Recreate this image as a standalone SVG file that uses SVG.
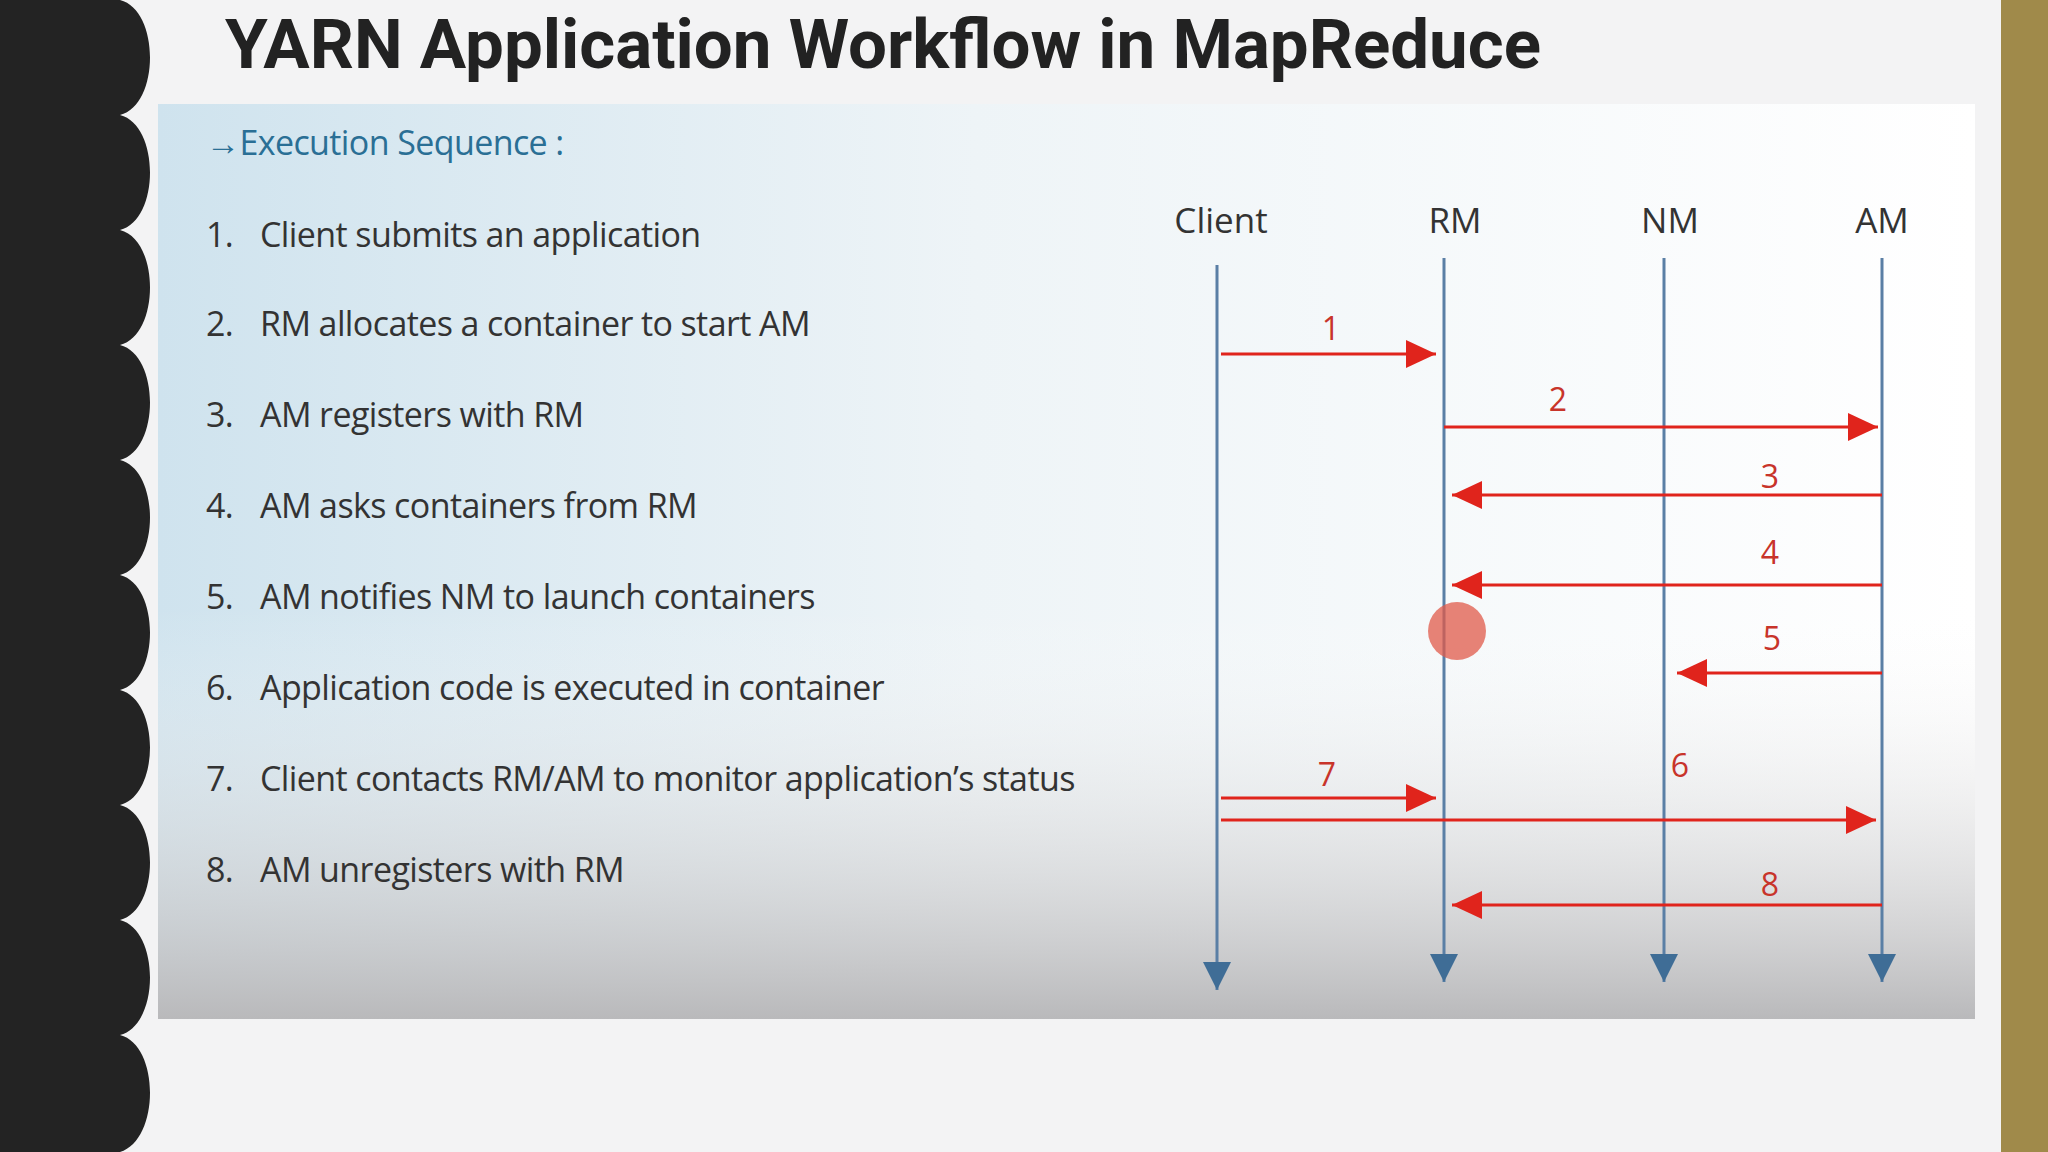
<svg xmlns="http://www.w3.org/2000/svg" width="2048" height="1152" viewBox="0 0 2048 1152">
<defs>
<style>
.t{font-family:"Open Sans","Liberation Sans",sans-serif;font-size:34px;fill:#333;letter-spacing:-0.6px}
.h{font-family:"Open Sans","Liberation Sans",sans-serif;font-size:35px;fill:#333;text-anchor:middle}
.n{font-family:"Open Sans","Liberation Sans",sans-serif;font-size:32px;fill:#c8342a;text-anchor:middle}
.life{stroke:#5a7fa5;stroke-width:3;fill:none}
.msg{stroke:#e0241c;stroke-width:3;fill:none;marker-end:url(#ra)}
</style>
<marker id="ra" markerUnits="userSpaceOnUse" markerWidth="32" markerHeight="28" refX="30" refY="14" orient="auto"><path d="M0,0 L30,14 L0,28 Z" fill="#e0241c"/></marker>
<marker id="ba" markerUnits="userSpaceOnUse" markerWidth="30" markerHeight="28" refX="28" refY="14" orient="auto"><path d="M0,0 L28,14 L0,28 Z" fill="#3f6d96"/></marker>
<linearGradient id="bg" x1="0" y1="0" x2="1" y2="0"><stop offset="0" stop-color="#cfe3ee"/><stop offset="0.45" stop-color="#eef4f7"/><stop offset="1" stop-color="#ffffff"/></linearGradient>
<linearGradient id="bot" x1="0" y1="0" x2="0" y2="1"><stop offset="0" stop-color="#ffffff" stop-opacity="0"/><stop offset="0.55" stop-color="#ffffff" stop-opacity="0"/><stop offset="1" stop-color="#b9b9bb" stop-opacity="1"/></linearGradient>
</defs>
<rect width="2048" height="1152" fill="#f3f3f4"/>
<rect x="2001" y="0" width="47" height="1152" fill="#a08a4a"/>
<path d="M0,0 H120 C160,10 160,105 120,115 C160,125 160,220 120,230 C160,240 160,335 120,345 C160,355 160,450 120,460 C160,470 160,565 120,575 C160,585 160,680 120,690 C160,700 160,795 120,805 C160,815 160,910 120,920 C160,930 160,1025 120,1035 C160,1045 160,1140 120,1152 H0 Z" fill="#232323"/>
<text x="225" y="68" font-family="Roboto,'Liberation Sans',sans-serif" font-weight="bold" font-size="68" fill="#222" textLength="1316" lengthAdjust="spacingAndGlyphs">YARN Application Workflow in MapReduce</text>
<g id="panel">
<rect x="158" y="104" width="1817" height="915" fill="url(#bg)"/>
<rect x="158" y="104" width="1817" height="915" fill="url(#bot)"/>
</g>
<g id="list">
<text x="206" y="155" class="t" style="fill:#2a6f95">→Execution Sequence :</text>
<text x="206" y="247" class="t">1.</text><text x="260" y="247" class="t">Client submits an application</text>
<text x="206" y="336" class="t">2.</text><text x="260" y="336" class="t">RM allocates a container to start AM</text>
<text x="206" y="427" class="t">3.</text><text x="260" y="427" class="t">AM registers with RM</text>
<text x="206" y="518" class="t">4.</text><text x="260" y="518" class="t">AM asks containers from RM</text>
<text x="206" y="609" class="t">5.</text><text x="260" y="609" class="t">AM notifies NM to launch containers</text>
<text x="206" y="700" class="t">6.</text><text x="260" y="700" class="t">Application code is executed in container</text>
<text x="206" y="791" class="t">7.</text><text x="260" y="791" class="t">Client contacts RM/AM to monitor application’s status</text>
<text x="206" y="882" class="t">8.</text><text x="260" y="882" class="t">AM unregisters with RM</text>
</g>
<g id="client"><text x="1221" y="233" class="h">Client</text><line x1="1217" y1="265" x2="1217" y2="990" class="life" marker-end="url(#ba)"/></g>
<g id="rm"><text x="1455" y="233" class="h">RM</text><line x1="1444" y1="258" x2="1444" y2="982" class="life" marker-end="url(#ba)"/></g>
<g id="nm"><text x="1670" y="233" class="h">NM</text><line x1="1664" y1="258" x2="1664" y2="982" class="life" marker-end="url(#ba)"/></g>
<g id="am"><text x="1882" y="233" class="h">AM</text><line x1="1882" y1="258" x2="1882" y2="982" class="life" marker-end="url(#ba)"/></g>
<g id="connectors">
<line x1="1221" y1="354" x2="1436" y2="354" class="msg"/><text x="1331" y="340" class="n">1</text>
<line x1="1444" y1="427" x2="1878" y2="427" class="msg"/><text x="1558" y="411" class="n">2</text>
<line x1="1882" y1="495" x2="1452" y2="495" class="msg"/><text x="1770" y="488" class="n">3</text>
<line x1="1882" y1="585" x2="1452" y2="585" class="msg"/><text x="1770" y="564" class="n">4</text>
<line x1="1882" y1="673" x2="1677" y2="673" class="msg"/><text x="1772" y="650" class="n">5</text>
<text x="1680" y="777" class="n">6</text>
<line x1="1221" y1="798" x2="1436" y2="798" class="msg"/><text x="1327" y="786" class="n">7</text>
<line x1="1221" y1="820" x2="1876" y2="820" class="msg"/>
<line x1="1882" y1="905" x2="1452" y2="905" class="msg"/><text x="1770" y="896" class="n">8</text>
</g>
<circle cx="1457" cy="631" r="29" fill="#e05a4a" opacity="0.75"/>
</svg>
